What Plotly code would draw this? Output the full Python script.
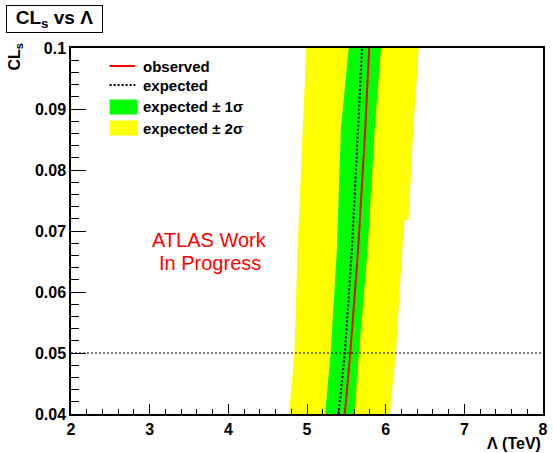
import plotly.graph_objects as go

# ---------------- data ----------------
cls_pts = [0.04, 0.05, 0.067, 0.0866, 0.1]
observed = [5.48, 5.55, 5.65, 5.74, 5.79]
expected = [5.40, 5.48, 5.57, 5.65, 5.70]
sig1_lo = [5.23, 5.30, 5.38, 5.43, 5.53]
sig1_hi = [5.60, 5.66, 5.77, 5.86, 5.94]
sig2_lo = [4.77, 4.84, 4.88, 4.94, 4.99]
cls_sig2_hi = [0.04, 0.05, 0.067, 0.0718, 0.0719, 0.0866, 0.1]
sig2_hi = [6.05, 6.13, 6.21, 6.24, 6.29, 6.35, 6.42]

limit_cls = 0.05
x_range = [2, 8]
y_range = [0.04, 0.1]
x_ticks = [2, 3, 4, 5, 6, 7, 8]
x_ticklabels = ["2", "3", "4", "5", "6", "7", "8"]
y_ticks = [0.04, 0.05, 0.06, 0.07, 0.08, 0.09, 0.1]
y_ticklabels = ["0.04", "0.05", "0.06", "0.07", "0.08", "0.09", "0.1"]

legend_labels = ["observed", "expected", "expected ± 1σ", "expected ± 2σ"]

# ---------------- layout geometry ----------------
W, H = 553, 453
ML, MR, MT, MB = 71, 5, 48, 39
PW, PH = W - ML - MR, H - MT - MB
FONT = "Liberation Sans, Arial, Helvetica, sans-serif"

YELLOW = "#ffff00"
GREEN = "#00ff00"
RED = "#ff0000"


def px(x):
    return (x - ML) / PW


def py(y):
    return (H - MB - y) / PH


fig = go.Figure()

# 2 sigma band
fig.add_trace(go.Scatter(
    x=sig2_lo + sig2_hi[::-1], y=cls_pts + cls_sig2_hi[::-1],
    fill="toself", fillcolor=YELLOW, line=dict(width=0, color=YELLOW),
    mode="lines", showlegend=False, hoverinfo="skip"))
# 1 sigma band
fig.add_trace(go.Scatter(
    x=sig1_lo + sig1_hi[::-1], y=cls_pts + cls_pts[::-1],
    fill="toself", fillcolor=GREEN, line=dict(width=0, color=GREEN),
    mode="lines", showlegend=False, hoverinfo="skip"))
# expected
fig.add_trace(go.Scatter(
    x=expected, y=cls_pts, mode="lines",
    line=dict(color="black", width=2.2, dash="2px,2px"), showlegend=False))
# observed
fig.add_trace(go.Scatter(
    x=observed, y=cls_pts, mode="lines",
    line=dict(color=RED, width=2), showlegend=False))
# 0.05 line
fig.add_trace(go.Scatter(
    x=x_range, y=[limit_cls, limit_cls], mode="lines",
    line=dict(color="black", width=1, dash="2px,2px"), showlegend=False))

axis_common = dict(
    showgrid=False, zeroline=False, showline=True, linecolor="black",
    linewidth=1.5, mirror=True, ticks="inside", tickcolor="black",
    tickfont=dict(family=FONT, size=16, color="black", weight="bold"),
)
fig.update_xaxes(range=x_range, tickvals=x_ticks, ticktext=x_ticklabels,
                 ticklen=10, tickwidth=1,
                 minor=dict(dtick=0.2, ticks="inside", ticklen=5,
                            tickcolor="black", tickwidth=1, showgrid=False),
                 **axis_common)
fig.update_yaxes(range=y_range, tickvals=y_ticks, ticktext=y_ticklabels,
                 ticklen=15, tickwidth=1,
                 minor=dict(dtick=0.002, ticks="inside", ticklen=8,
                            tickcolor="black", tickwidth=1, showgrid=False),
                 **axis_common)

shapes = []
annotations = []

# manual legend
leg_x0, leg_x1, txt_x = 110, 136, 142
leg_y = [66, 85, 107, 128]
shapes.append(dict(type="line", xref="paper", yref="paper",
                   x0=px(leg_x0), x1=px(leg_x1), y0=py(leg_y[0]), y1=py(leg_y[0]),
                   line=dict(color=RED, width=2)))
shapes.append(dict(type="line", xref="paper", yref="paper",
                   x0=px(leg_x0), x1=px(leg_x1), y0=py(leg_y[1]), y1=py(leg_y[1]),
                   line=dict(color="black", width=2, dash="2px,2px")))
shapes.append(dict(type="rect", xref="paper", yref="paper",
                   x0=px(leg_x0), x1=px(leg_x1 + 2), y0=py(leg_y[2] - 7.5), y1=py(leg_y[2] + 7.5),
                   fillcolor=GREEN, line=dict(width=0)))
shapes.append(dict(type="rect", xref="paper", yref="paper",
                   x0=px(leg_x0), x1=px(leg_x1 + 2), y0=py(leg_y[3] - 7.5), y1=py(leg_y[3] + 7.5),
                   fillcolor=YELLOW, line=dict(width=0)))
for lab, yy in zip(legend_labels, leg_y):
    annotations.append(dict(
        text="<b>%s</b>" % lab, xref="paper", yref="paper", x=px(txt_x), y=py(yy),
        xanchor="left", yanchor="middle", showarrow=False,
        font=dict(family=FONT, size=15, color="black")))

# title box
annotations.append(dict(
    text="<b>CL<sub>s</sub> vs Λ</b>", xref="paper", yref="paper",
    x=px(5), y=py(5), xanchor="left", yanchor="top", showarrow=False,
    width=93, height=24, borderpad=1, borderwidth=1, bordercolor="black",
    bgcolor="white", align="center", valign="middle",
    font=dict(family=FONT, size=19, color="black")))

# y-axis title
annotations.append(dict(
    text="<b>CL<sub>s</sub></b>", xref="paper", yref="paper",
    x=px(14), y=py(57), xanchor="center", yanchor="middle", showarrow=False,
    textangle=-90, font=dict(family=FONT, size=16, color="black")))

# x-axis title
annotations.append(dict(
    text="<b>Λ (TeV)</b>", xref="paper", yref="paper",
    x=px(548), y=py(443), xanchor="right", yanchor="middle", showarrow=False,
    font=dict(family=FONT, size=16, color="black")))

# ATLAS text
annotations.append(dict(
    text="ATLAS Work", xref="paper", yref="paper", x=px(211), y=py(240),
    xanchor="center", yanchor="middle", showarrow=False,
    font=dict(family=FONT, size=20, color=RED)))
annotations.append(dict(
    text="In Progress", xref="paper", yref="paper", x=px(211), y=py(263),
    xanchor="center", yanchor="middle", showarrow=False,
    font=dict(family=FONT, size=20, color=RED)))

fig.update_layout(
    width=W, height=H, autosize=False,
    margin=dict(l=ML, r=MR, t=MT, b=MB),
    paper_bgcolor="white", plot_bgcolor="white",
    showlegend=False, shapes=shapes, annotations=annotations,
    font=dict(family=FONT),
)

fig.write_html("out.html")
